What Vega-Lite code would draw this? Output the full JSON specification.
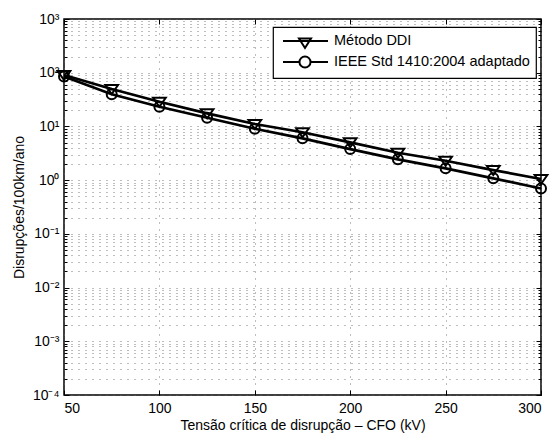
{
  "$schema": "https://vega.github.io/schema/vega-lite/v6.json",
  "width": 477,
  "height": 376,
  "autosize": {"type": "none"},
  "padding": {"left": 64, "top": 19, "right": 13, "bottom": 45},
  "background": "white",
  "config": {
    "view": {"stroke": "black", "strokeWidth": 1.5},
    "font": "Liberation Sans",
    "legend": {"strokeWidth": 1.2},
    "axis": {
      "labelFont": "Liberation Sans",
      "titleFont": "Liberation Sans",
      "labelFontSize": 14,
      "titleFontSize": 14,
      "titleFontWeight": "normal",
      "labelColor": "black",
      "titleColor": "black",
      "tickColor": "black",
      "tickWidth": 1,
      "domain": false,
      "gridColor": "#666",
      "gridDash": [1, 6],
      "gridWidth": 1,
      "gridOpacity": 0.85
    }
  },
  "data": {
    "values": [
      {"cfo": 50, "serie": "Método DDI", "v": 90.6},
      {"cfo": 75, "serie": "Método DDI", "v": 49.8},
      {"cfo": 100, "serie": "Método DDI", "v": 28.8},
      {"cfo": 125, "serie": "Método DDI", "v": 17.5},
      {"cfo": 150, "serie": "Método DDI", "v": 11.1},
      {"cfo": 175, "serie": "Método DDI", "v": 7.8},
      {"cfo": 200, "serie": "Método DDI", "v": 5.06},
      {"cfo": 225, "serie": "Método DDI", "v": 3.24},
      {"cfo": 250, "serie": "Método DDI", "v": 2.3},
      {"cfo": 275, "serie": "Método DDI", "v": 1.54},
      {"cfo": 300, "serie": "Método DDI", "v": 1.05},
      {"cfo": 50, "serie": "IEEE Std 1410:2004 adaptado", "v": 85},
      {"cfo": 75, "serie": "IEEE Std 1410:2004 adaptado", "v": 39.6},
      {"cfo": 100, "serie": "IEEE Std 1410:2004 adaptado", "v": 23.3},
      {"cfo": 125, "serie": "IEEE Std 1410:2004 adaptado", "v": 14.5},
      {"cfo": 150, "serie": "IEEE Std 1410:2004 adaptado", "v": 9.06},
      {"cfo": 175, "serie": "IEEE Std 1410:2004 adaptado", "v": 6.0},
      {"cfo": 200, "serie": "IEEE Std 1410:2004 adaptado", "v": 3.79},
      {"cfo": 225, "serie": "IEEE Std 1410:2004 adaptado", "v": 2.44},
      {"cfo": 250, "serie": "IEEE Std 1410:2004 adaptado", "v": 1.66},
      {"cfo": 275, "serie": "IEEE Std 1410:2004 adaptado", "v": 1.08},
      {"cfo": 300, "serie": "IEEE Std 1410:2004 adaptado", "v": 0.7}
    ]
  },
  "layer": [
    {
      "mark": {"type": "line", "color": "black", "strokeWidth": 2.7},
      "encoding": {
        "x": {
          "field": "cfo", "type": "quantitative",
          "scale": {"domain": [50, 300], "nice": false, "zero": false},
          "axis": {
            "orient": "bottom",
            "values": [50, 100, 150, 200, 250, 300],
            "title": "Tensão crítica de disrupção – CFO (kV)",
            "tickSize": -5,
            "labelPadding": 11,
            "titlePadding": 3,
            "grid": true
          }
        },
        "y": {
          "field": "v", "type": "quantitative",
          "scale": {"type": "log", "domain": [0.0001, 1000], "nice": false},
          "axis": {
            "orient": "left",
            "values": [0.0001, 0.0002, 0.0003, 0.0004, 0.0005, 0.0006, 0.0007, 0.0008, 0.0009,
                       0.001, 0.002, 0.003, 0.004, 0.005, 0.006, 0.007, 0.008, 0.009,
                       0.01, 0.02, 0.03, 0.04, 0.05, 0.06, 0.07, 0.08, 0.09,
                       0.1, 0.2, 0.3, 0.4, 0.5, 0.6, 0.7, 0.8, 0.9,
                       1, 2, 3, 4, 5, 6, 7, 8, 9,
                       10, 20, 30, 40, 50, 60, 70, 80, 90,
                       100, 200, 300, 400, 500, 600, 700, 800, 900, 1000],
            "labelExpr": "abs(log(datum.value)/LN10 - round(log(datum.value)/LN10)) < 0.000001 ? '10' + ['⁻⁴','⁻³','⁻²','⁻¹','⁰','¹','²','³'][round(log(datum.value)/LN10)+4] : ''",
            "tickSize": {"condition": {"test": "abs(log(datum.value)/LN10 - round(log(datum.value)/LN10)) < 0.000001", "value": -5}, "value": -3},
            "labelPadding": 10,
            "title": "Disrupções/100km/ano",
            "titlePadding": 6,
            "grid": true
          }
        },
        "detail": {"field": "serie"}
      }
    },
    {
      "mark": {"type": "point", "filled": false, "color": "black", "strokeWidth": 2, "size": 100, "opacity": 1},
      "encoding": {
        "x": {
          "field": "cfo", "type": "quantitative",
          "axis": {"orient": "top", "values": [50, 100, 150, 200, 250, 300], "labels": false, "title": null, "grid": false, "tickSize": -5}
        },
        "y": {
          "field": "v", "type": "quantitative",
          "axis": {
            "orient": "right",
            "values": [0.0001, 0.0002, 0.0003, 0.0004, 0.0005, 0.0006, 0.0007, 0.0008, 0.0009,
                       0.001, 0.002, 0.003, 0.004, 0.005, 0.006, 0.007, 0.008, 0.009,
                       0.01, 0.02, 0.03, 0.04, 0.05, 0.06, 0.07, 0.08, 0.09,
                       0.1, 0.2, 0.3, 0.4, 0.5, 0.6, 0.7, 0.8, 0.9,
                       1, 2, 3, 4, 5, 6, 7, 8, 9,
                       10, 20, 30, 40, 50, 60, 70, 80, 90,
                       100, 200, 300, 400, 500, 600, 700, 800, 900, 1000],
            "labels": false, "title": null, "grid": false,
            "tickSize": {"condition": {"test": "abs(log(datum.value)/LN10 - round(log(datum.value)/LN10)) < 0.000001", "value": -5}, "value": -3}
          }
        },
        "shape": {
          "field": "serie", "type": "nominal",
          "scale": {
            "domain": ["Método DDI", "IEEE Std 1410:2004 adaptado"],
            "range": ["M-1.27,-0.8L1.27,-0.8L0,1.0Z", "M-1,0A1,1 0 1,0 1,0A1,1 0 1,0 -1,0Z"]
          },
          "legend": null
        }
      }
    },
    {
      "mark": {"type": "point", "filled": false, "color": "black", "opacity": 0},
      "encoding": {
        "x": {"field": "cfo", "type": "quantitative", "axis": null},
        "y": {"field": "v", "type": "quantitative", "axis": null},
        "shape": {
          "field": "serie", "type": "nominal",
          "scale": {
            "domain": ["Método DDI", "IEEE Std 1410:2004 adaptado"],
            "range": ["M-0.57,0L5.86,0M1.71,-0.35L3.43,-0.35L2.57,1.0Z", "M-0.57,0L1.78,0M3.36,0L5.86,0M1.78,0A0.79,0.79 0 1,0 3.36,0A0.79,0.79 0 1,0 1.78,0Z"]
          },
          "legend": {
            "orient": "none",
            "legendX": 209,
            "legendY": 8,
            "title": null,
            "strokeColor": "black",
            "fillColor": "white",
            "padding": 6,
            "symbolSize": 196,
            "symbolStrokeWidth": 2,
            "symbolStrokeColor": "black",
            "symbolFillColor": "transparent",
            "symbolOpacity": 1,
            "labelFont": "Liberation Sans",
            "labelFontSize": 14.5,
            "labelColor": "black",
            "labelLimit": 400,
            "labelOffset": 39,
            "rowPadding": 0,
            "cornerRadius": 0
          }
        }
      }
    }
  ],
  "resolve": {
    "scale": {"shape": "independent"},
    "axis": {"x": "independent", "y": "independent"}
  }
}
